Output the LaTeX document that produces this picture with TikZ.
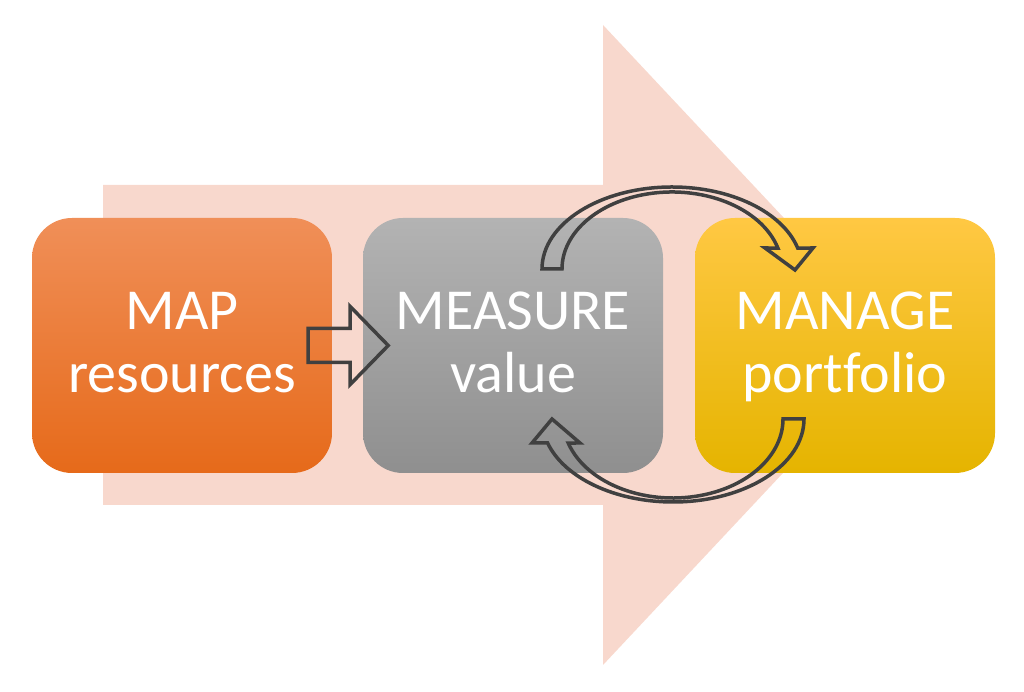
\documentclass[tikz,border=0pt]{standalone}
\usepackage{fontspec}
\setmainfont{Carlito}[Ligatures=NoCommon]
\usepackage{xcolor}
\usepackage{tikz}
\usetikzlibrary{calc}
\definecolor{band}{HTML}{F8D8CD}
\definecolor{line}{HTML}{404040}
\definecolor{orangetop}{HTML}{F08F58}
\definecolor{orangemid}{HTML}{F47C2B}
\definecolor{orangebot}{HTML}{E66A1A}
\definecolor{graytop}{HTML}{B3B3B3}
\definecolor{graymid}{HTML}{A5A5A5}
\definecolor{graybot}{HTML}{8F8F8F}
\definecolor{yellowtop}{HTML}{FFC843}
\definecolor{yellowmid}{HTML}{FFC000}
\definecolor{yellowbot}{HTML}{E5B400}
\tikzset{
  box/.style={
    rounded corners=40pt,
    minimum width=300pt,
    minimum height=255pt,
    inner sep=0pt,
    align=center,
    text=white,
    font=\fontsize{58}{63}\selectfont,
    text height=98pt,
    text depth=3pt
  },
  outline/.style={draw=line, line width=3.5pt, line join=miter}
}

\begin{document}
\begin{tikzpicture}[x=1pt,y=1pt]
  \useasboundingbox (0,0) rectangle (1024,692);
  % big arrow behind
  \fill[band] (103,187) -- (603,187) -- (603,27) -- (903,347) -- (603,667) -- (603,507) -- (103,507) -- cycle;

  \node[box, top color=orangetop, middle color=orangemid, bottom color=orangebot] (map) at (182,346.5) {MAP\\resources};
  \node[box, top color=graytop, middle color=graymid, bottom color=graybot] (measure) at (513,346.5) {MEASURE\\value};
  \node[box, top color=yellowtop, middle color=yellowmid, bottom color=yellowbot] (manage) at (845,346.5) {MANAGE\\portfolio};

  % map -> measure
  \draw[outline, shift={(map.east)}] (-24,17) -- (18,17) -- (18,39) -- (56,0) -- (18,-39) -- (18,-17) -- (-24,-17) -- cycle;

  % measure -> manage, over the top
  \coordinate (upc) at (672,423);
  \draw[outline] ($(upc)+(180:130 and 82)$)
    arc[start angle=180, end angle=14.8, x radius=130, y radius=82]
    -- (813,444) -- (795,422) -- (765,444)
    -- ($(upc)+(15.8:110 and 77)$)
    arc[start angle=15.8, end angle=180, x radius=110, y radius=77] -- cycle;

  % manage -> measure, underneath
  \coordinate (downc) at (673,273);
  \draw[outline] ($(downc)+(0:131 and 83)$)
    arc[start angle=0, end angle=-163.2, x radius=131, y radius=83]
    -- (532,249) -- (552,273) -- (580,249)
    -- ($(downc)+(-162.3:110 and 79)$)
    arc[start angle=-162.3, end angle=0, x radius=110, y radius=79] -- cycle;
\end{tikzpicture}
\end{document}
